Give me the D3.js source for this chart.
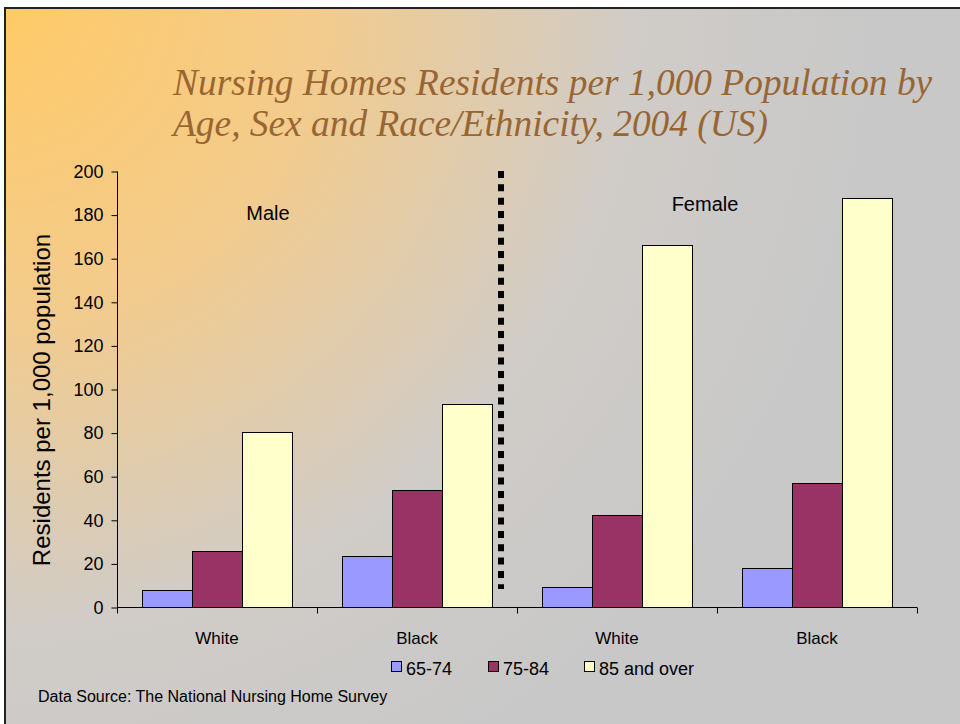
<!DOCTYPE html>
<html>
<head>
<meta charset="utf-8">
<script src="https://cdn.jsdelivr.net/npm/d3@7"></script>
<style>
  body { margin:0; background:#fff; }
  svg { display:block; }
</style>
</head>
<body>
<div id="canvas"></div>
<script>
// --- data
var groups = ["Male White", "Male Black", "Female White", "Female Black"];
var groupLabels = ["White", "Black", "White", "Black"];
var series = ["65-74", "75-84", "85 and over"];
var v6574 = [8, 23.5, 9.2, 18];
var v7584 = [25.5, 53.8, 42.2, 56.9];
var v85 = [80.4, 93.1, 166.2, 187.6];
var yTicks = [0, 20, 40, 60, 80, 100, 120, 140, 160, 180, 200];
var colors = ["#9999ff", "#993366", "#ffffcc"];

var W = 960, H = 724;
var M = {top:171, left:117, right:43, bottom:117};

var svg = d3.select('#canvas').append('svg')
  .attr('width', W).attr('height', H);

// --- background
var defs = svg.append('defs');
var grad = defs.append('radialGradient')
  .attr('id', 'bg')
  .attr('gradientUnits', 'userSpaceOnUse')
  .attr('cx', 0).attr('cy', 0).attr('r', 880);
grad.append('stop').attr('offset', '0').attr('stop-color', '#ffca66');
grad.append('stop').attr('offset', '0.35').attr('stop-color', '#f3cb8b');
grad.append('stop').attr('offset', '0.72').attr('stop-color', '#d0ccc8');
grad.append('stop').attr('offset', '1').attr('stop-color', '#c8c8c8');

svg.append('rect').attr('x', 0).attr('y', 0).attr('width', W).attr('height', H).attr('fill', '#fff');
svg.append('rect').attr('x', 4).attr('y', 7).attr('width', W - 4).attr('height', H - 7).attr('fill', '#222');
svg.append('rect').attr('x', 6).attr('y', 9).attr('width', W - 6).attr('height', H - 9).attr('fill', 'url(#bg)');

// --- title
var title = svg.append('text')
  .attr('font-family', '"Liberation Serif", "Times New Roman", serif')
  .attr('font-style', 'italic')
  .attr('font-size', 37.4)
  .attr('fill', '#996633');
title.append('tspan').attr('x', 173).attr('y', 95).text('Nursing Homes Residents per 1,000 Population by');
title.append('tspan').attr('x', 173).attr('y', 136).text('Age, Sex and Race/Ethnicity, 2004 (US)');

// --- scales
var x0 = d3.scaleBand().domain(groups).range([M.left, W - M.right]).padding(0);
var x1 = d3.scaleBand().domain(series).range([0, x0.bandwidth()]).paddingInner(0).paddingOuter(0.5);
var y = d3.scaleLinear().domain([0, 200]).range([H - M.bottom, M.top]);

// --- bars
var vals = [v6574, v7584, v85];
var barData = [];
groups.forEach(function(g, i) {
  series.forEach(function(s, j) {
    barData.push({g: g, s: s, v: vals[j][i], c: colors[j]});
  });
});

svg.append('g').selectAll('rect')
  .data(barData)
  .enter().append('rect')
  .attr('x', function(d) { return Math.round(x0(d.g) + x1(d.s)) + 0.5; })
  .attr('y', function(d) { return Math.round(y(d.v)) + 0.5; })
  .attr('width', x1.bandwidth())
  .attr('height', function(d) { return Math.round(y(0)) - Math.round(y(d.v)); })
  .attr('fill', function(d) { return d.c; })
  .attr('stroke', '#000')
  .attr('stroke-width', 1);

// --- y axis
var yAxis = d3.axisLeft(y).tickValues(yTicks).tickSize(6).tickPadding(8);
var gy = svg.append('g')
  .attr('transform', 'translate(' + (M.left + 0.5) + ',0.5)')
  .call(yAxis);
gy.selectAll('text')
  .attr('font-family', 'Arial, "Liberation Sans", sans-serif')
  .attr('font-size', 18)
  .attr('fill', '#000');
gy.selectAll('line,path').attr('stroke', '#000');
gy.select('.domain').attr('d', 'M0,' + y(200) + 'V' + y(0));

// --- x axis
var gx = svg.append('g').attr('transform', 'translate(0,' + (Math.round(y(0)) + 0.5) + ')');
gx.append('line')
  .attr('x1', M.left).attr('x2', W - M.right)
  .attr('stroke', '#000');
var bounds = groups.map(function(g) { return x0(g); }).concat([x0(groups[groups.length - 1]) + x0.bandwidth()]);
gx.selectAll('.tk').data(bounds).enter().append('line')
  .attr('class', 'tk')
  .attr('x1', function(d) { return Math.round(d) + 0.5; })
  .attr('x2', function(d) { return Math.round(d) + 0.5; })
  .attr('y1', 0).attr('y2', 6)
  .attr('stroke', '#000');
gx.selectAll('.lbl').data(groups).enter().append('text')
  .attr('class', 'lbl')
  .attr('x', function(d) { return x0(d) + x0.bandwidth() / 2; })
  .attr('y', 36)
  .attr('text-anchor', 'middle')
  .attr('font-family', 'Arial, "Liberation Sans", sans-serif')
  .attr('font-size', 17)
  .text(function(d, i) { return groupLabels[i]; });

// --- y label
svg.append('text')
  .attr('transform', 'translate(50,400) rotate(-90)')
  .attr('text-anchor', 'middle')
  .attr('font-family', 'Arial, "Liberation Sans", sans-serif')
  .attr('font-size', 24)
  .text('Residents per 1,000 population');

// --- separator
svg.append('line')
  .attr('x1', 501).attr('x2', 501)
  .attr('y1', y(200)).attr('y2', 589)
  .attr('stroke', '#000')
  .attr('stroke-width', 6)
  .attr('stroke-dasharray', '7,6.33');

// --- sex labels
svg.append('text').attr('x', 268).attr('y', 220).attr('text-anchor', 'middle')
  .attr('font-family', 'Arial, "Liberation Sans", sans-serif').attr('font-size', 20).text('Male');
svg.append('text').attr('x', 705).attr('y', 211).attr('text-anchor', 'middle')
  .attr('font-family', 'Arial, "Liberation Sans", sans-serif').attr('font-size', 20).text('Female');

// --- legend
var legX = [391, 488, 584];
var leg = svg.append('g').selectAll('g').data(series).enter().append('g')
  .attr('transform', function(d, i) { return 'translate(' + legX[i] + ',661)'; });
leg.append('rect')
  .attr('x', 0.5).attr('y', 0.5).attr('width', 10).attr('height', 10)
  .attr('fill', function(d, i) { return colors[i]; })
  .attr('stroke', '#000');
leg.append('text')
  .attr('x', 15).attr('y', 14)
  .attr('font-family', 'Arial, "Liberation Sans", sans-serif')
  .attr('font-size', 18)
  .text(function(d) { return d; });

// --- source
svg.append('text').attr('x', 38).attr('y', 702)
  .attr('font-family', 'Arial, "Liberation Sans", sans-serif')
  .attr('font-size', 16)
  .text('Data Source: The National Nursing Home Survey');
</script>
</body>
</html>
